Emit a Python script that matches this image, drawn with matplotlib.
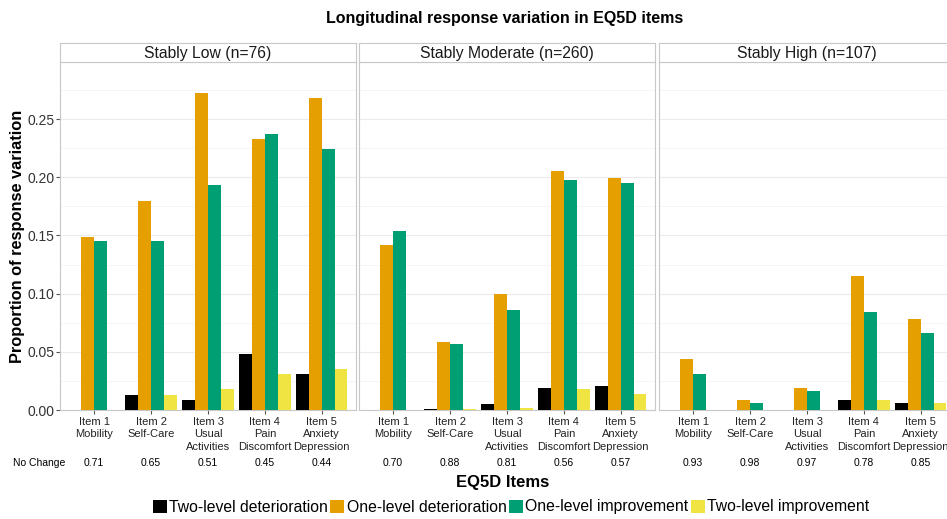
import numpy as np
import matplotlib.pyplot as plt
import matplotlib.transforms as mtransforms
from matplotlib.patches import Patch

plt.rcParams['font.family'] = ['Liberation Sans', 'DejaVu Sans']

items = ["Item 1\nMobility", "Item 2\nSelf-Care", "Item 3\nUsual\nActivities",
         "Item 4\nPain\nDiscomfort", "Item 5\nAnxiety\nDepression"]
panels = ["Stably Low (n=76)", "Stably Moderate (n=260)", "Stably High (n=107)"]
series = ["Two-level deterioration", "One-level deterioration",
          "One-level improvement", "Two-level improvement"]
colors = ["#000000", "#E69F00", "#009E73", "#F0E442"]

# values[panel][series][item]
low = [[0.000, 0.013, 0.009, 0.048, 0.031],
       [0.149, 0.180, 0.272, 0.233, 0.268],
       [0.145, 0.145, 0.193, 0.237, 0.224],
       [0.000, 0.013, 0.018, 0.031, 0.035]]
moderate = [[0.000, 0.001, 0.005, 0.019, 0.021],
            [0.142, 0.058, 0.100, 0.205, 0.199],
            [0.154, 0.057, 0.086, 0.198, 0.195],
            [0.000, 0.001, 0.002, 0.018, 0.014]]
high = [[0.000, 0.000, 0.000, 0.009, 0.006],
        [0.044, 0.009, 0.019, 0.115, 0.078],
        [0.031, 0.006, 0.016, 0.084, 0.066],
        [0.000, 0.000, 0.000, 0.009, 0.006]]
values = [low, moderate, high]

no_change = [[0.71, 0.65, 0.51, 0.45, 0.44],
             [0.70, 0.88, 0.81, 0.56, 0.57],
             [0.93, 0.98, 0.97, 0.78, 0.85]]

W, H = 947, 519
fig = plt.figure(figsize=(W / 100, H / 100), dpi=100)

lefts = [60, 359, 659]
pw = 296
top, bottom = 62, 410
strip_top = 43
x = np.arange(1, 6)
bw = 0.9 / 4

for p in range(3):
    ax = fig.add_axes([lefts[p] / W, 1 - bottom / H, pw / W, (bottom - top) / H])
    for s in range(4):
        ax.bar(x + (s - 1.5) * bw, values[p][s], width=bw, color=colors[s],
               edgecolor='none', zorder=3)
    ax.set_xlim(0.4, 5.6)
    ax.set_ylim(0, 0.299)
    ax.set_yticks([0, 0.05, 0.10, 0.15, 0.20, 0.25])
    ax.set_yticks([0.025, 0.075, 0.125, 0.175, 0.225, 0.275], minor=True)
    ax.grid(axis='y', which='major', color='#ebebeb', lw=0.8, zorder=0)
    ax.grid(axis='y', which='minor', color='#f4f4f4', lw=0.6, zorder=0)
    ax.set_xticks(x)
    ax.set_xticklabels(items, fontsize=8, linespacing=1.3)
    ax.tick_params(axis='x', length=3, color='#555555', pad=2,
                   labelcolor='#222222')
    ax.tick_params(axis='y', which='major', length=3, color='#555555',
                   labelsize=10, pad=1, labelcolor='#333333')
    ax.tick_params(axis='y', which='minor', length=0)
    if p > 0:
        ax.tick_params(axis='y', which='major', length=0, labelleft=False)
    else:
        ax.set_yticklabels(["0.00", "0.05", "0.10", "0.15", "0.20", "0.25"])
    for sp in ax.spines.values():
        sp.set_color('#c8c8c8')
        sp.set_linewidth(0.8)

    trans = mtransforms.blended_transform_factory(ax.transData, fig.transFigure)
    for i in range(5):
        ax.text(x[i], 1 - 463 / H, "%.2f" % no_change[p][i], transform=trans,
                ha='center', va='center', fontsize=7.5)

    sax = fig.add_axes([lefts[p] / W, 1 - top / H, pw / W, (top - strip_top) / H])
    sax.set_xticks([])
    sax.set_yticks([])
    for sp in sax.spines.values():
        sp.set_color('#c8c8c8')
        sp.set_linewidth(0.8)
    sax.text(0.5, 0.45, panels[p], ha='center', va='center', fontsize=11.3,
             color='#1a1a1a', transform=sax.transAxes)

fig.text(13 / W, 1 - 463 / H, "No Change", ha='left', va='center', fontsize=7.5)
fig.text(505 / W, 1 - 18 / H, "Longitudinal response variation in EQ5D items",
         ha='center', va='center', fontsize=11.5, fontweight='bold')
fig.text(18 / W, 1 - 236 / H, "Proportion of response variation", rotation=90,
         ha='center', va='center', fontsize=11.8, fontweight='bold')
fig.text(503 / W, 1 - 483 / H, "EQ5D Items", ha='center', va='center',
         fontsize=12, fontweight='bold')

handles = [Patch(facecolor=c, edgecolor='none') for c in colors]
fig.legend(handles, series, loc='center', bbox_to_anchor=(511 / W, 1 - 507 / H),
           ncol=4, frameon=False, fontsize=11.3, handlelength=0.9, handleheight=0.9,
           handletextpad=0.15, columnspacing=0.15, borderpad=0)

fig.savefig("out.png", dpi=100)
